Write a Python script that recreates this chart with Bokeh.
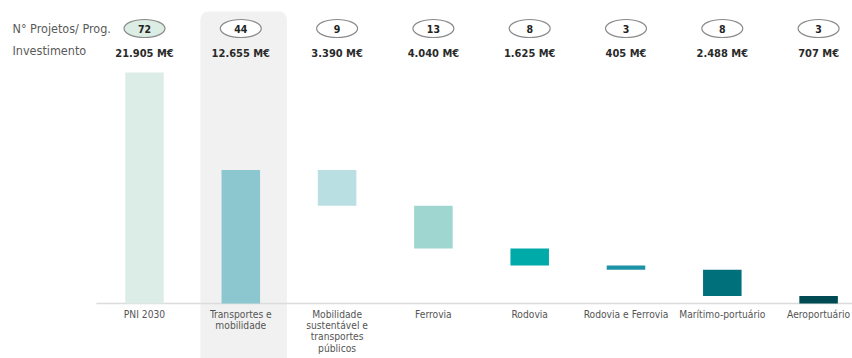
from bokeh.plotting import figure
from bokeh.models import Range1d
from bokeh.embed import file_html
from bokeh.resources import INLINE
from bokeh.core.properties import value

# ---- data ----
categories = ["PNI 2030", "Transportes e\nmobilidade",
              "Mobilidade\nsustentável e\ntransportes\npúblicos",
              "Ferrovia", "Rodovia", "Rodovia e Ferrovia",
              "Marítimo-portuário", "Aeroportuário"]
investment = [21905, 12655, 3390, 4040, 1625, 405, 2488, 707]
projects = [72, 44, 9, 13, 8, 3, 8, 3]
investment_labels = ["21.905 M€", "12.655 M€", "3.390 M€", "4.040 M€",
                     "1.625 M€", "405 M€", "2.488 M€", "707 M€"]
bar_colors = ["#dcede7", "#8cc6ce", "#b9dfe2", "#9fd6cf",
              "#00aaa8", "#1e93a8", "#00717b", "#004b53"]
oval_fills = ["#dcede4", "#ffffff", "#ffffff", "#ffffff",
              "#ffffff", "#ffffff", "#ffffff", "#ffffff"]
row_labels = ["N° Projetos/ Prog.", "Investimento"]

# waterfall: first two bars from 0, the rest step down from the total of bar 2
tops, bottoms = [], []
running = investment[1]
for i, v in enumerate(investment):
    if i < 2:
        tops.append(v)
        bottoms.append(0)
    else:
        tops.append(running)
        bottoms.append(running - v)
        running -= v

idx = list(range(len(categories)))

# ---- layout (pixel geometry) ----
W, H = 852, 358
PITCH = 96.3          # px per category
CX0 = 144             # x of first category centre
BASE = 303            # y of baseline
K = 231 / investment[0]  # px per M€

x_start = -CX0 / PITCH
x_end = x_start + W / PITCH
y_start = -(H - BASE) / K
y_end = BASE / K


def ypx(py):
    return (BASE - py) / K


def xpx(px):
    return (px - CX0) / PITCH


FONT = "DejaVu Sans Condensed"

p = figure(width=W, height=H, x_range=Range1d(x_start, x_end),
           y_range=Range1d(y_start, y_end), output_backend="svg",
           toolbar_location=None, min_border=0, outline_line_color=None)
p.axis.visible = False
p.grid.visible = False
p.background_fill_color = "white"

# highlight band behind second column
p.quad(left=[idx[1] - 0.42], right=[idx[1] + 0.48], top=[ypx(11)],
       bottom=[ypx(370)], fill_color="#f1f1f1", line_color=None,
       border_radius=(8, 8, 0, 0))

# baseline
p.segment(x0=[-0.5], y0=[0], x1=[x_end], y1=[0], line_color="#dcdcdc",
          line_width=1.5)

# bars
p.vbar(x=idx, width=0.4, top=tops, bottom=bottoms, fill_color=bar_colors,
       line_color=None)

# ovals with project counts
p.ellipse(x=idx, y=[ypx(28)] * len(idx), width=41, height=18,
          width_units="screen", height_units="screen",
          fill_color=oval_fills, line_color="#8a8a8a", line_width=1.2)
p.text(x=idx, y=[ypx(28)] * len(idx), text=[str(n) for n in projects],
       text_align="center", text_baseline="middle", text_font_size="10.5px",
       text_font_style="bold", text_color="#222222", text_font=value(FONT))

# investment labels
p.text(x=idx, y=[ypx(53)] * len(idx), text=investment_labels,
       text_align="center", text_baseline="middle", text_font_size="11px",
       text_font_style="bold", text_color="#2a2a2a", text_font=value(FONT))

# row labels
p.text(x=[xpx(12)] * 2, y=[ypx(28), ypx(50)], text=row_labels,
       text_align="left", text_baseline="middle", text_font_size="12.5px",
       text_color="#5a5a5a", text_font=value(FONT))

# category labels
p.text(x=idx, y=[ypx(308)] * len(idx), text=categories, text_align="center",
       text_baseline="top", text_font_size="10.2px", text_color="#555555",
       text_line_height=1.04, text_font=value(FONT))

open("out.html", "w").write(file_html(p, INLINE))
